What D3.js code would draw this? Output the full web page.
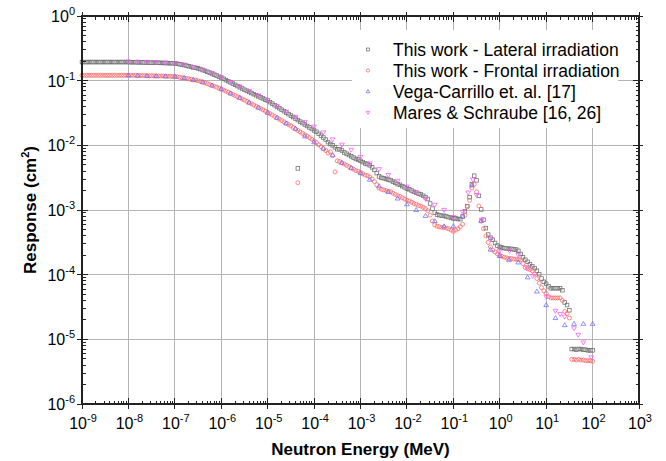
<!DOCTYPE html>
<html><head><meta charset="utf-8">
<script src="https://cdn.jsdelivr.net/npm/d3@7"></script>
<style>
body{margin:0;background:#fff}
svg{display:block}
text{font-family:Arial,"Liberation Sans",Helvetica,sans-serif;fill:#000}
</style>
</head><body>
<svg id="chart" width="666" height="461"></svg>
<script>
// ---------------- DATA ----------------
// log10(E / MeV) grid shared by the two "This work" series
const energyExp = [
-9,-8.95,-8.9,-8.85,-8.8,-8.75,-8.7,-8.65,-8.6,-8.55,-8.5,-8.45,-8.4,-8.35,-8.3,-8.25,-8.2,-8.15,-8.1,-8.05,
-8,-7.95,-7.9,-7.85,-7.8,-7.75,-7.7,-7.65,-7.6,-7.55,-7.5,-7.45,-7.4,-7.35,-7.3,-7.25,-7.2,-7.15,-7.1,-7.05,
-7,-6.95,-6.9,-6.85,-6.8,-6.75,-6.7,-6.65,-6.6,-6.55,-6.5,-6.45,-6.4,-6.35,-6.3,-6.25,-6.2,-6.15,-6.1,-6.05,
-6,-5.95,-5.9,-5.85,-5.8,-5.75,-5.7,-5.65,-5.6,-5.55,-5.5,-5.45,-5.4,-5.35,-5.3,-5.25,-5.2,-5.15,-5.1,-5.05,
-5,-4.95,-4.9,-4.85,-4.8,-4.75,-4.7,-4.65,-4.6,-4.55,-4.5,-4.45,-4.4,-4.35,-4.3,-4.25,-4.2,-4.15,-4.1,-4.05,
-4,-3.95,-3.9,-3.85,-3.8,-3.75,-3.7,-3.65,-3.6,-3.55,-3.5,-3.45,-3.4,-3.35,-3.3,-3.25,-3.2,-3.15,-3.1,-3.05,
-3,-2.95,-2.9,-2.85,-2.8,-2.75,-2.7,-2.65,-2.6,-2.55,-2.5,-2.45,-2.4,-2.35,-2.3,-2.25,-2.2,-2.15,-2.1,-2.05,
-2,-1.95,-1.9,-1.85,-1.8,-1.75,-1.7,-1.65,-1.6,-1.55,-1.5,-1.45,-1.4,-1.35,-1.3,-1.25,-1.2,-1.15,-1.1,-1.05,
-1,-0.95,-0.9,-0.85,-0.8,-0.75,-0.7,-0.65,-0.6,-0.55,-0.5,-0.45,-0.4,-0.35,-0.3,-0.25,-0.2,-0.15,-0.1,-0.05,
0,0.05,0.1,0.15,0.2,0.25,0.3,0.35,0.4,0.45,0.5,0.55,0.6,0.65,0.7,0.75,0.8,0.85,0.9,0.95,
1,1.05,1.1,1.15,1.2,1.25,1.3,1.35,1.4,1.45,1.5,1.55,1.6,1.65,1.7,1.75,1.8,1.85,1.9,1.95,
2
];
const lateral = [
0.194,0.194,0.194,0.194,0.194,0.194,0.194,0.194,0.194,0.194,0.194,0.194,0.194,0.194,0.194,0.194,0.194,0.194,0.194,0.194,
0.194,0.193,0.193,0.193,0.192,0.192,0.192,0.191,0.191,0.190,0.190,0.190,0.189,0.189,0.188,0.188,0.187,0.187,0.186,0.186,
0.185,0.183,0.180,0.177,0.174,0.171,0.167,0.164,0.160,0.158,0.155,0.151,0.146,0.142,0.137,0.133,0.129,0.124,0.120,0.115,
0.111,0.107,0.102,0.0982,0.0942,0.0902,0.0863,0.0826,0.0791,0.0757,0.0724,0.0697,0.0670,0.0644,0.0619,0.0596,0.0573,0.0551,0.0530,0.0509,
0.0490,0.0465,0.0441,0.0418,0.0396,0.0376,0.0356,0.0338,0.0321,0.0304,0.0288,0.0274,0.0259,0.0246,0.0233,0.0221,0.0210,0.0199,0.0189,0.0179,
0.0170,0.0162,0.0151,0.0141,0.0132,0.0123,0.0112,0.0105,0.0100,0.00933,0.00871,0.00871,0.00832,0.00776,0.00741,0.00708,0.00676,0.00646,0.00617,0.00603,
0.00575,0.00550,0.00525,0.00513,0.00490,0.00457,0.00417,0.00372,0.00331,0.00316,0.00309,0.00302,0.00295,0.00288,0.00275,0.00263,0.00251,0.00245,0.00234,0.00224,
0.00214,0.00209,0.00200,0.00191,0.00186,0.00178,0.00174,0.00166,0.00158,0.00148,0.00126,0.00105,0.000912,0.000851,0.000832,0.000813,0.000813,0.000794,0.000776,0.000759,
0.000741,0.000741,0.000724,0.000724,0.000794,0.000955,0.00115,0.00158,0.00251,0.00339,0.00288,0.00166,0.00102,0.000708,0.000525,0.000417,0.000372,0.000347,0.000309,0.000282,
0.000269,0.000263,0.000257,0.000254,0.000251,0.000251,0.000245,0.000245,0.000234,0.000209,0.000186,0.000170,0.000158,0.000145,0.000135,0.000126,0.000115,0.000102,8.71e-5,7.76e-5,
7.24e-5,6.61e-5,6.17e-5,6.17e-5,6.17e-5,6.17e-5,6.17e-5,5.75e-5,3.72e-5,3.39e-5,2.82e-5,7.08e-6,7.08e-6,6.92e-6,7.08e-6,7.08e-6,6.92e-6,6.92e-6,6.76e-6,6.76e-6,
6.76e-6
];
const frontal = [
0.121,0.121,0.121,0.121,0.121,0.121,0.121,0.121,0.121,0.121,0.121,0.121,0.121,0.121,0.121,0.121,0.121,0.121,0.121,0.121,
0.121,0.121,0.121,0.121,0.120,0.120,0.120,0.120,0.119,0.119,0.119,0.119,0.118,0.118,0.118,0.118,0.117,0.117,0.117,0.116,
0.116,0.115,0.113,0.111,0.110,0.108,0.107,0.105,0.103,0.102,0.100,0.0975,0.0951,0.0925,0.0899,0.0873,0.0847,0.0820,0.0794,0.0767,
0.0741,0.0714,0.0689,0.0662,0.0637,0.0612,0.0589,0.0566,0.0545,0.0522,0.0501,0.0480,0.0459,0.0440,0.0421,0.0403,0.0385,0.0369,0.0353,0.0338,
0.0324,0.0308,0.0294,0.0280,0.0267,0.0254,0.0242,0.0231,0.0220,0.0209,0.0200,0.0189,0.0179,0.0170,0.0161,0.0153,0.0145,0.0138,0.0131,0.0124,
0.0117,0.0110,0.0102,0.00955,0.00891,0.00832,0.00759,0.00794,0.00692,0.00389,0.00575,0.00562,0.00537,0.00513,0.00490,0.00468,0.00447,0.00427,0.00407,0.00398,
0.00380,0.00363,0.00347,0.00339,0.00324,0.00302,0.00275,0.00245,0.00219,0.00209,0.00204,0.00200,0.00195,0.00191,0.00182,0.00174,0.00166,0.00162,0.00155,0.00148,
0.00141,0.00138,0.00132,0.00126,0.00123,0.00117,0.00115,0.00110,0.00105,0.000977,0.000832,0.000676,0.000589,0.000562,0.000550,0.000537,0.000537,0.000525,0.000513,0.000490,
0.000468,0.000490,0.000513,0.000550,0.000603,0.000832,0.00112,0.00141,0.00219,0.00251,0.00191,0.00115,0.000676,0.000513,0.000398,0.000316,0.000269,0.000240,0.000224,0.000209,
0.000200,0.000191,0.000186,0.000182,0.000178,0.000178,0.000174,0.000174,0.000170,0.000170,0.000148,0.000129,0.000123,0.000120,0.000115,0.000102,8.71e-5,7.41e-5,6.31e-5,5.62e-5,
5.13e-5,4.57e-5,4.37e-5,4.37e-5,4.37e-5,4.37e-5,4.37e-5,3.98e-5,2.69e-5,2.51e-5,2.14e-5,4.90e-6,4.90e-6,4.79e-6,4.90e-6,4.79e-6,4.79e-6,4.68e-6,4.68e-6,4.68e-6,
4.57e-6
];
// isolated points of the two "This work" series
const extraExp = [-4.35];
const lateralExtra = [0.0044];
const frontalExtra = [0.00265];

const vegaExp = [-8,-7.8,-7.6,-7.4,-7.2,-7,-6.8,-6.6,-6.4,-6.2,-6,-5.8,-5.6,-5.4,-5.2,-5,-4.8,-4.6,-4.4,-4.2,
-4,-3.8,-3.6,-3.4,-3.2,-3,-2.8,-2.6,-2.4,-2.2,-2,-1.8,-1.6,-1.4,-1.2,-1,-0.8,-0.6,-0.4,-0.2,
0,0.2,0.4,0.6,0.8,1,1.2,1.4,1.6,1.8,2];
const vega = [0.121,0.120,0.119,0.118,0.117,0.116,0.110,0.103,0.0951,0.0847,0.0741,0.0637,0.0545,0.0459,0.0385,0.0320,0.0267,0.0218,0.0181,0.0138,
0.0112,0.00891,0.00708,0.00537,0.00447,0.00372,0.00295,0.00234,0.00191,0.00151,0.00123,0.00100,0.000813,0.000676,0.000562,0.000562,0.000794,0.00240,0.000676,0.000245,
0.000195,0.000170,0.000155,9.12e-5,5.50e-5,3.39e-5,2.14e-5,1.66e-5,1.74e-5,1.74e-5,1.74e-5];

const maresExp = [-8,-7.8,-7.6,-7.4,-7.2,-7,-6.8,-6.6,-6.4,-6.2,-6,-5.8,-5.6,-5.4,-5.2,-5,-4.8,-4.6,-4.4,-4.2,
-4,-3.8,-3.6,-3.4,-3.2,-3,-2.8,-2.6,-2.4,-2.2,-2,-1.8,-1.6,-1.4,-1.2,-1,-0.8,-0.68,-0.58,-0.5,
-0.39,-0.19,-0.01,0.21,0.4,0.59,0.71,1,1.2,1.3,1.4,1.6,1.69,1.8,1.97];
const mares = [0.197,0.196,0.195,0.193,0.190,0.186,0.176,0.162,0.147,0.130,0.112,0.0955,0.0813,0.0692,0.0589,0.0501,0.0407,0.0331,0.0275,0.0229,
0.0195,0.0158,0.0123,0.0102,0.00851,0.00661,0.00525,0.00427,0.00347,0.00282,0.00229,0.00186,0.00148,0.00120,0.00100,0.000776,0.000933,0.00186,0.00295,0.00170,
0.000708,0.000355,0.000229,0.000234,0.000200,0.000129,9.55e-5,4.57e-5,2.75e-5,2.45e-5,2.24e-5,1.48e-5,1.17e-5,8.91e-6,5.25e-6];

const xTickExp = [-9,-8,-7,-6,-5,-4,-3,-2,-1,0,1,2,3];
const yTickExp = [-6,-5,-4,-3,-2,-1,0];
const legendLabels = ["This work - Lateral irradiation","This work - Frontal irradiation","Vega-Carrillo et. al. [17]","Mares & Schraube [16, 26]"];
const xTitle = "Neutron Energy (MeV)";

// ---------------- CHART ----------------
const svg = d3.select("#chart");
const L = 82, R = 639, T = 16, B = 404;
const x = d3.scaleLog().domain([1e-9, 1e3]).range([L, R]);
const y = d3.scaleLog().domain([1e-6, 1]).range([B, T]);
const p10 = e => Math.pow(10, e);

// grid
const grid = svg.append("g").attr("stroke", "#b4b4b4").attr("stroke-width", 1).attr("shape-rendering", "crispEdges");
xTickExp.slice(1, -1).forEach(e => grid.append("line").attr("x1", x(p10(e))).attr("x2", x(p10(e))).attr("y1", T).attr("y2", B));
yTickExp.slice(1, -1).forEach(e => grid.append("line").attr("x1", L).attr("x2", R).attr("y1", y(p10(e))).attr("y2", y(p10(e))));

// legend background
svg.append("rect").attr("x", 352).attr("y", 30).attr("width", 266).attr("height", 98).attr("fill", "#fff");

// series
const series = [
  {name: legendLabels[0], color: "#6e6e6e", sym: "square"},
  {name: legendLabels[1], color: "#ff6464", sym: "circle"},
  {name: legendLabels[2], color: "#6c6cff", sym: "up"},
  {name: legendLabels[3], color: "#ff55ff", sym: "down"}
];
function marker(g, sym, color, cx, cy, k) {
  k = k || 1;
  const sw = 0.75;
  if (sym === "square") {
    const h = 1.8 * k;
    g.append("rect").attr("x", cx - h).attr("y", cy - h).attr("width", 2 * h).attr("height", 2 * h)
      .attr("fill", "none").attr("stroke", color).attr("stroke-width", sw);
  } else if (sym === "circle") {
    g.append("circle").attr("cx", cx).attr("cy", cy).attr("r", 2.0 * k)
      .attr("fill", "none").attr("stroke", color).attr("stroke-width", sw);
  } else {
    const s = sym === "up" ? 1 : -1;
    const h = 4.0 * k, w = 2.4 * k;
    const pts = [[cx, cy - s * h * 0.6], [cx - w, cy + s * h * 0.4], [cx + w, cy + s * h * 0.4]];
    g.append("path").attr("d", "M" + pts.map(p => p.join(",")).join("L") + "Z")
      .attr("fill", "none").attr("stroke", color).attr("stroke-width", sw);
  }
}
const dataSets = [
  {s: series[0], ex: energyExp.concat(extraExp), v: lateral.concat(lateralExtra)},
  {s: series[1], ex: energyExp.concat(extraExp), v: frontal.concat(frontalExtra)},
  {s: series[2], ex: vegaExp, v: vega},
  {s: series[3], ex: maresExp, v: mares}
];
const pg = svg.append("g");
dataSets.forEach(ds => {
  const g = pg.append("g");
  ds.ex.forEach((e, i) => marker(g, ds.s.sym, ds.s.color, x(p10(e)), y(ds.v[i])));
});

// frame
svg.append("rect").attr("x", L).attr("y", T).attr("width", R - L).attr("height", B - T)
  .attr("fill", "none").attr("stroke", "#222").attr("stroke-width", 1.4).attr("shape-rendering", "crispEdges");

// ticks
const tk = svg.append("g").attr("stroke", "#222").attr("stroke-width", 1).attr("shape-rendering", "crispEdges");
const minorX = [], minorY = [];
for (let k = -9; k < 3; k++) for (let m = 2; m <= 9; m++) minorX.push(m * p10(k));
for (let k = -6; k < 0; k++) for (let m = 2; m <= 9; m++) minorY.push(m * p10(k));
xTickExp.forEach(e => {
  const xx = x(p10(e));
  tk.append("line").attr("x1", xx).attr("x2", xx).attr("y1", B - 6).attr("y2", B + 5);
  tk.append("line").attr("x1", xx).attr("x2", xx).attr("y1", T - 4).attr("y2", T + 6);
});
minorX.forEach(v => {
  const xx = x(v);
  tk.append("line").attr("x1", xx).attr("x2", xx).attr("y1", B - 3.5).attr("y2", B);
  tk.append("line").attr("x1", xx).attr("x2", xx).attr("y1", T).attr("y2", T + 3.5);
});
yTickExp.forEach(e => {
  const yy = y(p10(e));
  tk.append("line").attr("x1", L - 5).attr("x2", L + 6).attr("y1", yy).attr("y2", yy);
  tk.append("line").attr("x1", R - 6).attr("x2", R + 4).attr("y1", yy).attr("y2", yy);
});
minorY.forEach(v => {
  const yy = y(v);
  tk.append("line").attr("x1", L).attr("x2", L + 3.5).attr("y1", yy).attr("y2", yy);
  tk.append("line").attr("x1", R - 3.5).attr("x2", R).attr("y1", yy).attr("y2", yy);
});

// tick labels
function powLabel(sel, e) {
  sel.append("tspan").text("10").attr("font-size", 16);
  sel.append("tspan").text(String(e)).attr("font-size", 11).attr("dy", -7);
}
xTickExp.forEach(e => {
  const t = svg.append("text").attr("x", x(p10(e)) + 1).attr("y", 429).attr("text-anchor", "middle");
  powLabel(t, e);
});
yTickExp.forEach(e => {
  const t = svg.append("text").attr("x", 75).attr("y", y(p10(e)) + 6).attr("text-anchor", "end");
  powLabel(t, e);
});

// axis titles
svg.append("text").attr("x", (L + R) / 2).attr("y", 455).attr("text-anchor", "middle")
  .attr("font-size", 17).attr("font-weight", "bold").text(xTitle);
const yt = svg.append("text").attr("transform", "translate(36,210) rotate(-90)").attr("text-anchor", "middle")
  .attr("font-size", 17).attr("font-weight", "bold");
yt.append("tspan").text("Response (cm");
yt.append("tspan").text("2").attr("font-size", 11).attr("dy", -7);
yt.append("tspan").text(")").attr("dy", 7);

// legend
const lg = svg.append("g");
series.forEach((s, i) => {
  const by = 55.5 + i * 21;
  marker(lg, s.sym, s.color, 368, by - 6, 0.8);
  lg.append("text").attr("x", 393).attr("y", by).attr("font-size", 17.5).text(s.name);
});
</script>
</body></html>
